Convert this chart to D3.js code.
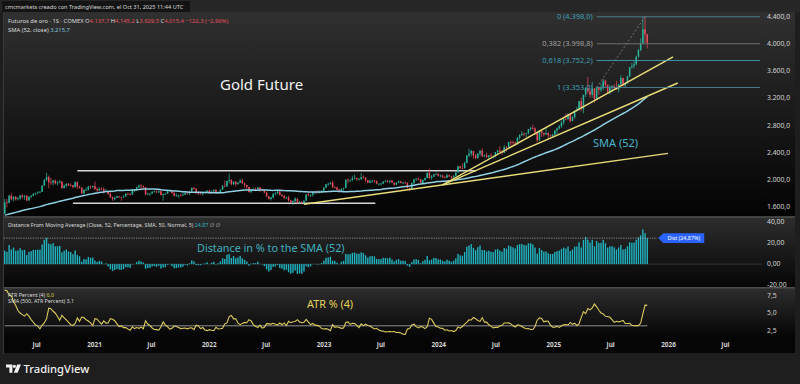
<!DOCTYPE html>
<html><head><meta charset="utf-8">
<script src="https://cdn.jsdelivr.net/npm/d3@7"></script>
<style>html,body{margin:0;padding:0;background:#1e1e1e;overflow:hidden}svg{display:block}</style>
</head><body><svg id="c" width="800" height="384"></svg>
<script>
// ---------------- DATA ----------------
const startDate = "2020-03-23";           // first weekly candle (Monday)
// weekly closes before the first candle (needed to warm up the SMA 52)
const warmupCloses = [1298,1295,1291,1276,1288,1281,1287,1277,1284,1311,
1346,1344,1400,1413,1400,1412,1426,1419,1457,1509,
1523,1537,1529,1515,1506,1515,1505,1513,1489,1494,
1505,1514,1462,1468,1469,1473,1465,1481,1481,1514,
1552,1560,1560,1572,1589,1573,1586,1649,1566,1673,
1516,1484];
// weekly closes (Futuros de oro, 1S)
const closes = [1654,1646,1752,1698,1736,1700,1713,1756,1735,1751,
1683,1737,1753,1781,1790,1801,1810,1901,1985,2028,
1949,1947,1975,1934,1947,1962,1866,1900,1930,1906,
1905,1879,1951,1886,1872,1788,1840,1840,1888,1883,
1895,1850,1830,1856,1850,1813,1824,1777,1729,1700,
1720,1743,1733,1729,1744,1780,1777,1769,1831,1838,
1877,1904,1892,1879,1769,1781,1784,1811,1815,1802,
1817,1763,1779,1781,1819,1833,1791,1751,1751,1761,
1757,1768,1796,1784,1817,1868,1851,1788,1784,1783,
1805,1811,1829,1797,1818,1835,1787,1808,1842,1899,
1889,1969,1985,1922,1958,1924,1945,1974,1934,1911,
1882,1808,1842,1851,1850,1875,1840,1830,1801,1742,
1703,1727,1781,1791,1816,1762,1749,1721,1728,1683,
1655,1672,1709,1649,1657,1645,1681,1770,1755,1768,
1809,1810,1800,1804,1826,1870,1921,1928,1945,1877,
1874,1842,1817,1855,1868,1989,1983,1986,2011,2016,
1999,1999,2025,2019,1981,1944,1969,1977,1971,1929,
1929,1932,1961,1964,1960,1976,1946,1915,1947,1966,
1942,1946,1945,1866,1845,1941,1994,2006,1999,1940,
1984,2013,2089,2014,2034,2069,2072,2050,2051,2029,
2018,2054,2038,2024,2046,2096,2186,2162,2160,2238,
2346,2374,2413,2347,2309,2375,2418,2335,2346,2325,
2349,2337,2337,2398,2421,2400,2386,2470,2469,2546,
2543,2536,2527,2611,2647,2668,2667,2675,2736,2755,
2747,2694,2571,2716,2681,2657,2676,2646,2639,2654,
2716,2748,2779,2835,2887,2884,2955,2857,2914,3001,
3025,3150,3036,3245,3346,3295,3244,3336,3187,3350,
3316,3346,3453,3386,3288,3344,3372,3359,3322,3399,
3491,3382,3419,3517,3653,3669,3693,3809,3908,4000,
4213,4137.7,4015.4];
const highs = [1706,1705,1765,1789,1747,1748,1735,1765,1775,1760,
1760,1745,1760,1788,1800,1820,1820,1906,1995,2089,
2051,2015,1987,1992,1967,1983,1965,1920,1936,1937,
1933,1911,1965,1967,1900,1876,1846,1875,1897,1906,
1902,1962,1875,1875,1875,1876,1855,1827,1815,1737,
1740,1755,1746,1736,1759,1790,1798,1790,1845,1845,
1890,1916,1920,1903,1880,1797,1795,1818,1834,1833,
1834,1832,1780,1796,1824,1837,1834,1809,1787,1765,
1783,1801,1814,1810,1819,1870,1877,1866,1810,1795,
1815,1815,1831,1833,1830,1848,1855,1816,1845,1904,
1976,1974,2078,1995,1966,1966,1949,1998,2003,1946,
1911,1885,1849,1870,1874,1880,1880,1849,1841,1815,
1748,1739,1785,1808,1824,1825,1775,1770,1736,1753,
1688,1685,1729,1712,1679,1676,1685,1775,1791,1770,
1815,1815,1836,1833,1833,1875,1924,1942,1951,1975,
1893,1886,1853,1860,1870,1993,2010,1995,2048,2063,
2018,2015,2085,2052,2027,1983,1996,1985,1985,1975,
1934,1943,1969,1989,1987,1982,1981,1946,1950,1980,
1968,1952,1965,1947,1874,1946,1998,2010,2020,1994,
1994,2018,2095,2152,2061,2071,2096,2088,2067,2062,
2043,2077,2066,2046,2054,2099,2195,2194,2226,2256,
2350,2448,2431,2417,2370,2382,2425,2454,2365,2390,
2350,2387,2348,2400,2430,2485,2433,2500,2487,2548,
2570,2565,2550,2617,2664,2708,2690,2681,2741,2773,
2801,2763,2700,2722,2722,2683,2761,2694,2660,2672,
2726,2760,2800,2862,2912,2968,2973,2960,2934,3017,
3066,3152,3201,3245,3358,3509,3348,3437,3345,3366,
3366,3412,3476,3468,3400,3390,3385,3400,3451,3405,
3534,3500,3430,3530,3655,3715,3744,3824,3923,4081,
4392,4398,4145.2];
const lows = [1482,1577,1640,1681,1667,1682,1680,1690,1709,1690,
1671,1677,1714,1741,1762,1773,1792,1807,1899,1966,
1863,1911,1902,1920,1906,1936,1851,1856,1873,1891,
1890,1860,1874,1850,1859,1775,1765,1820,1830,1855,
1864,1835,1808,1826,1831,1785,1809,1767,1717,1676,
1683,1717,1716,1678,1721,1735,1762,1756,1761,1808,
1825,1868,1856,1867,1761,1761,1750,1784,1799,1789,
1791,1758,1677,1764,1778,1806,1782,1742,1737,1721,
1745,1749,1760,1770,1759,1812,1845,1780,1762,1767,
1753,1788,1791,1782,1788,1806,1781,1780,1791,1842,
1878,1889,1935,1906,1910,1890,1915,1943,1930,1872,
1850,1797,1786,1840,1828,1836,1805,1823,1785,1733,
1696,1681,1711,1755,1768,1755,1732,1699,1700,1664,
1642,1615,1660,1640,1634,1624,1618,1672,1750,1730,
1740,1770,1782,1784,1800,1826,1865,1897,1915,1870,
1860,1830,1809,1813,1813,1865,1934,1950,1966,1996,
1972,1978,1982,2005,1952,1936,1938,1941,1945,1920,
1901,1903,1923,1952,1942,1934,1941,1903,1914,1935,
1935,1924,1931,1858,1823,1846,1921,1970,1976,1935,
1935,1975,2010,2001,1987,2028,2063,2035,2021,2010,
2010,2018,2030,1994,2015,2035,2091,2148,2146,2152,
2238,2325,2332,2300,2291,2300,2340,2325,2325,2307,
2299,2330,2300,2319,2360,2398,2353,2380,2400,2450,
2495,2509,2490,2500,2580,2640,2631,2620,2660,2712,
2730,2652,2541,2563,2622,2628,2650,2600,2620,2617,
2640,2665,2730,2750,2800,2870,2878,2836,2855,2890,
2998,3011,2998,2971,3210,3260,3202,3204,3121,3180,
3245,3280,3310,3360,3270,3250,3282,3320,3315,3280,
3385,3370,3353,3400,3510,3630,3633,3690,3793,3890,
4000,4004,3929.5];
const atrSeed = 106;           // ATR(4) in $ before the first candle
const atrSmaValue = 3.1;       // SMA(500, ATR Percent)
const smaLength = 52;
const atrLength = 4;

// drawings
const trendStart = [["2022-10-31",1625],["2024-01-15",1911],["2024-01-15",1911]];
const trendEnd   = [["2026-01-01",2379],["2026-01-17",3804],["2026-02-01",3419]];
const hLineFrom  = ["2020-11-09","2020-10-26"];
const hLineTo    = ["2024-05-01","2023-06-15"];
const hLineValue = [2122,1640];
const fibAnchorDates  = ["2025-05-19","2025-10-20"];
const fibAnchorValues = [3353,4398];
const fibLevels = [0,0.382,0.618,1];

// axes
const priceTicks = [1600,2000,2400,2800,3200,3600,4000,4400];
const distTicks = [-20,0,20,40];
const atrTicks = [2.5,5,7.5];
const timeTicks = ["2020-07-01","2021-01-01","2021-07-01","2022-01-01","2022-07-01","2023-01-01","2023-07-01","2024-01-01","2024-07-01","2025-01-01","2025-07-01","2026-01-01","2026-07-01"];

// ---------------- HELPERS ----------------
const FONT = "'Noto Sans','DejaVu Sans',sans-serif";
const loc = d3.formatLocale({decimal:",",thousands:".",grouping:[3],currency:["",""],minus:"-"});
const locM = d3.formatLocale({decimal:",",thousands:".",grouping:[3],currency:["",""],minus:"\u2212"});
const f1 = loc.format(",.1f"), f2 = loc.format(",.2f"), f1m = locM.format(",.1f"), f2m = locM.format(",.2f");
const P = d3.utcParse("%Y-%m-%d");
const t0 = P(startDate);
const dates = closes.map((c,i)=>d3.utcDay.offset(t0,7*i));
const nW = warmupCloses.length;
const allC = warmupCloses.concat(closes);
const opens = closes.map((c,i)=> i===0 ? warmupCloses[nW-1] : closes[i-1]);
const sma = closes.map((c,i)=> d3.mean(allC.slice(i+nW-smaLength+1, i+nW+1)));
const dist = closes.map((c,i)=> (c-sma[i])/sma[i]*100);
let atr = atrSeed;
const atrPct = closes.map((c,i)=>{
  const pc = opens[i];
  const tr = Math.max(highs[i]-lows[i], Math.abs(highs[i]-pc), Math.abs(lows[i]-pc));
  atr += (tr-atr)/atrLength;
  return atr/c*100;
});

// ---------------- SCALES ----------------
const x = d3.scaleUtc().domain([P("2021-01-01"),P("2026-01-01")]).range([94,668]);
const yM = d3.scaleLinear().domain([1600,4400]).range([206,16.65]);
const yD = d3.scaleLinear().domain([-20,40]).range([285,222.3]);
const yA = d3.scaleLinear().domain([2.5,7.5]).range([330,295]);

const svg = d3.select("#c").style("font-family",FONT);
const defs = svg.append("defs");
function grad(id,c0,c1){
  const g = defs.append("linearGradient").attr("id",id).attr("x1",0).attr("y1",0).attr("x2",0).attr("y2",1);
  g.append("stop").attr("offset",0).attr("stop-color",c0);
  g.append("stop").attr("offset",1).attr("stop-color",c1);
}
grad("gM","#303030","#030303");
grad("gD","#2d2d2d","#060606");
grad("gA","#2d2d2d","#050505");

const PL = 4, PR = 762, AX = 795;
const panes = {M:[13,216.5],D:[217.5,287],A:[288,338]};
Object.entries(panes).forEach(([k,[a,b]])=>{
  defs.append("clipPath").attr("id","clip"+k).append("rect").attr("x",PL).attr("y",a).attr("width",PR-PL).attr("height",b-a);
});

// background
svg.append("rect").attr("width",800).attr("height",384).attr("fill","#1e1e1e");
svg.append("rect").attr("x",0).attr("y",0).attr("width",800).attr("height",12.5).attr("fill","#262626");
svg.append("rect").attr("x",2).attr("y",1).attr("width",188).attr("height",11).attr("fill","#141414");
svg.append("text").attr("x",5).attr("y",9).attr("font-size",5.6).attr("fill","#d8d8d8")
  .text("cmcmarkets creado con TradingView.com, el Oct 31, 2025 11:44 UTC");
svg.append("rect").attr("x",PL-1).attr("y",12.5).attr("width",AX-PL+1).attr("height",354-12.5).attr("fill","#3a3a3a");
svg.append("rect").attr("x",PL).attr("y",panes.M[0]).attr("width",AX-PL).attr("height",panes.M[1]-panes.M[0]).attr("fill","url(#gM)");
svg.append("rect").attr("x",PL).attr("y",panes.D[0]).attr("width",AX-PL).attr("height",panes.D[1]-panes.D[0]).attr("fill","url(#gD)");
svg.append("rect").attr("x",PL).attr("y",panes.A[0]).attr("width",AX-PL).attr("height",panes.A[1]-panes.A[0]).attr("fill","url(#gA)");
svg.append("rect").attr("x",PL).attr("y",338).attr("width",AX-PL).attr("height",15.5).attr("fill","#050505");

// ---------------- MAIN PANE ----------------
const gM = svg.append("g").attr("clip-path","url(#clipM)");
hLineValue.forEach((v,i)=>{
  gM.append("line").attr("x1",x(P(hLineFrom[i]))).attr("x2",x(P(hLineTo[i])))
    .attr("y1",yM(v)).attr("y2",yM(v)).attr("stroke","#d6d6d6").attr("stroke-width",1.6);
});
const UP="#2db39b", DN="#ea4e5c";
const cg = gM.append("g");
cg.selectAll("line").data(closes).join("line")
  .attr("x1",(d,i)=>x(dates[i])).attr("x2",(d,i)=>x(dates[i]))
  .attr("y1",(d,i)=>yM(highs[i])).attr("y2",(d,i)=>yM(lows[i]))
  .attr("stroke",(d,i)=> d>=opens[i]?UP:DN).attr("stroke-width",0.7);
cg.selectAll("rect").data(closes).join("rect")
  .attr("x",(d,i)=>x(dates[i])-0.75).attr("width",1.5)
  .attr("y",(d,i)=>yM(Math.max(d,opens[i])))
  .attr("height",(d,i)=>Math.max(0.7,Math.abs(yM(d)-yM(opens[i]))))
  .attr("fill",(d,i)=> d>=opens[i]?UP:DN);
gM.append("path").datum(sma).attr("fill","none").attr("stroke","#8fd0e4").attr("stroke-width",1.5)
  .attr("d",d3.line().x((d,i)=>x(dates[i])).y(d=>yM(d)));
trendStart.forEach((s,i)=>{
  const e = trendEnd[i];
  gM.append("line").attr("x1",x(P(s[0]))).attr("y1",yM(s[1])).attr("x2",x(P(e[0]))).attr("y2",yM(e[1]))
    .attr("stroke","#e9dc78").attr("stroke-width",1.4);
});
const fx0 = x(P(fibAnchorDates[0])), fx1 = x(P(fibAnchorDates[1]));
const fHi = fibAnchorValues[1], fLo = fibAnchorValues[0];
const fibCol = ["#3f9fb6","#a0a0a0","#3f9fb6","#3f9fb6"];
const fibLine = ["#4f8796","#777","#3f9fb6","#4f8796"];
fibLevels.forEach((l,i)=>{
  const v = fHi - l*(fHi-fLo);
  gM.append("line").attr("x1",fx0).attr("x2",PR-2).attr("y1",yM(v)).attr("y2",yM(v))
    .attr("stroke",fibLine[i]).attr("stroke-width",0.9);
  const lt = l===0||l===1 ? String(l) : loc.format(".3f")(l);
  svg.append("text").attr("x",fx0-4).attr("y",yM(v)).attr("dy","0.35em").attr("text-anchor","end")
    .attr("font-size",7.4).attr("fill",fibCol[i]).text(`${lt} (${f1(v)})`);
});
gM.append("line").attr("x1",fx0).attr("y1",yM(fLo)).attr("x2",fx1).attr("y2",yM(fHi))
  .attr("stroke","#888").attr("stroke-width",0.8).attr("stroke-dasharray","2,2");

// ---------------- DISTANCE PANE ----------------
const gD = svg.append("g").attr("clip-path","url(#clipD)");
gD.append("line").attr("x1",PL).attr("x2",PR).attr("y1",yD(0)).attr("y2",yD(0)).attr("stroke","#4a4a4a").attr("stroke-width",0.6);
gD.selectAll("rect").data(dist).join("rect")
  .attr("x",(d,i)=>x(dates[i])-0.7).attr("width",1.4)
  .attr("y",d=>Math.min(yD(d),yD(0))).attr("height",d=>Math.abs(yD(d)-yD(0)))
  .attr("fill","#22b3c0");
const lastDist = dist[dist.length-1];
gD.append("line").attr("x1",PL).attr("x2",x(dates[dates.length-1])+10).attr("y1",yD(lastDist)).attr("y2",yD(lastDist))
  .attr("stroke","#bdbdbd").attr("stroke-width",0.7).attr("stroke-dasharray","1.2,1.2");
{
  const lx = x(dates[dates.length-1])+11, ly = yD(lastDist);
  svg.append("path").attr("d",`M${lx},${ly} L${lx+5},${ly-4.8} H${lx+46} V${ly+4.8} H${lx+5} Z`).attr("fill","#2962ff");
  svg.append("text").attr("x",lx+25.5).attr("y",ly).attr("dy","0.35em").attr("text-anchor","middle")
    .attr("font-size",5.4).attr("fill","#fff").text(`Dist (${f2(lastDist)}%)`);
}

// ---------------- ATR PANE ----------------
const gA = svg.append("g").attr("clip-path","url(#clipA)");
gA.append("line").attr("x1",x(dates[0])).attr("x2",x(dates[dates.length-1])).attr("y1",yA(atrSmaValue)).attr("y2",yA(atrSmaValue))
  .attr("stroke","#9c9c9c").attr("stroke-width",0.9);
gA.append("path").datum(atrPct).attr("fill","none").attr("stroke","#dccb5e").attr("stroke-width",1.1)
  .attr("d",d3.line().x((d,i)=>x(dates[i])).y(d=>yA(d)));

// separators
[217,287.8].forEach(y=>svg.append("line").attr("x1",PL).attr("x2",AX).attr("y1",y).attr("y2",y).attr("stroke","#4d4d4d").attr("stroke-width",1.4));

// ---------------- AXES ----------------
function styleAxis(g){
  g.select(".domain").remove(); g.selectAll(".tick line").remove();
  g.selectAll("text").attr("font-family",FONT).attr("fill","#d4d4d4").attr("font-size",6.8);
}
svg.append("g").attr("transform",`translate(${PR+4},0)`)
  .call(d3.axisRight(yM).tickValues(priceTicks).tickSize(0).tickPadding(1).tickFormat(f1)).call(styleAxis);
// distance pane labels
svg.append("g").selectAll("text").data(distTicks).join("text")
  .attr("x",PR+5).attr("y",d=>yD(d)).attr("dy","0.32em")
  .attr("font-size",6.8).attr("fill","#d4d4d4").text(d=>f2(d));
svg.append("g").attr("transform",`translate(${PR+4},0)`)
  .call(d3.axisRight(yA).tickValues(atrTicks).tickSize(0).tickPadding(1).tickFormat(f1)).call(styleAxis);
svg.append("g").attr("transform","translate(0,340)")
  .call(d3.axisBottom(x).tickValues(timeTicks.map(P)).tickSize(0).tickPadding(2)
    .tickFormat(d=> d.getUTCMonth()===6 ? "Jul" : String(d.getUTCFullYear())))
  .call(styleAxis).selectAll("text").attr("font-weight","bold").attr("font-size",6.4);

// ---------------- LEGENDS ----------------
const n = closes.length-1;
const chg = closes[n]-closes[n-1];
const L1 = svg.append("text").attr("x",8).attr("y",23).attr("font-size",5.8).attr("fill","#dcdcdc");
L1.append("tspan").text("Futuros de oro \u00b7 1S \u00b7 COMEX  O");
L1.append("tspan").attr("fill","#e4505e").text(f1(opens[n]));
L1.append("tspan").text(" H");
L1.append("tspan").attr("fill","#e4505e").text(f1(highs[n]));
L1.append("tspan").text(" L");
L1.append("tspan").attr("fill","#e4505e").text(f1(lows[n]));
L1.append("tspan").text(" C");
L1.append("tspan").attr("fill","#e4505e").text(f1(closes[n]) + " " + f1m(chg) + " (" + f2m(chg/closes[n-1]*100) + "%)");
const L2 = svg.append("text").attr("x",8).attr("y",31.5).attr("font-size",5.8).attr("fill","#dcdcdc");
L2.append("tspan").text("SMA (52, close)  ");
L2.append("tspan").attr("fill","#7fc3dc").text(f1(sma[n]));

const L3 = svg.append("text").attr("x",8).attr("y",227).attr("font-size",5.3).attr("fill","#dcdcdc");
L3.append("tspan").text("Distance From Moving Average (Close, 52, Percentage, SMA, 50, Normal, 5)  ");
L3.append("tspan").attr("fill","#25b0bc").text(f2(lastDist));
L3.append("tspan").attr("fill","#bbb").text("  \u2205  \u2205");

const L4 = svg.append("text").attr("x",8).attr("y",296.5).attr("font-size",5.3).attr("fill","#dcdcdc");
L4.append("tspan").text("ATR Percent (4)  ");
L4.append("tspan").attr("fill","#dccb5e").text(f1(atrPct[n]));
const L5 = svg.append("text").attr("x",8).attr("y",303).attr("font-size",5.3).attr("fill","#dcdcdc");
L5.append("tspan").text("SMA (500, ATR Percent)  ");
L5.append("tspan").attr("fill","#dcdcdc").text(f1(atrSmaValue));

// annotations
svg.append("text").attr("x",220).attr("y",89.5).attr("font-size",15).attr("fill","#f2f2f2").text("Gold Future");
svg.append("text").attr("x",593).attr("y",146.5).attr("font-size",11).attr("fill","#49b4cb").text("SMA (52)");
svg.append("text").attr("x",197).attr("y",251.5).attr("font-size",10.8).attr("fill","#3fb1c0").text("Distance in % to the SMA (52)");
svg.append("text").attr("x",307).attr("y",307.8).attr("font-size",10.8).attr("fill","#e5d25a").text("ATR % (4)");

// TradingView logo
const lg = svg.append("g").attr("fill","#f0f0f0");
lg.append("path").attr("d","M6,364.6 H12.4 V372.8 H9.4 V367.6 H6 Z");
lg.append("circle").attr("cx",14.4).attr("cy",366.3).attr("r",1.6);
lg.append("path").attr("d","M17.2,364.6 H21 L17.6,372.8 H13.8 Z");
svg.append("text").attr("x",23.5).attr("y",373).attr("font-size",11.2).attr("font-weight",500).attr("fill","#f0f0f0").text("TradingView");
</script></body></html>
